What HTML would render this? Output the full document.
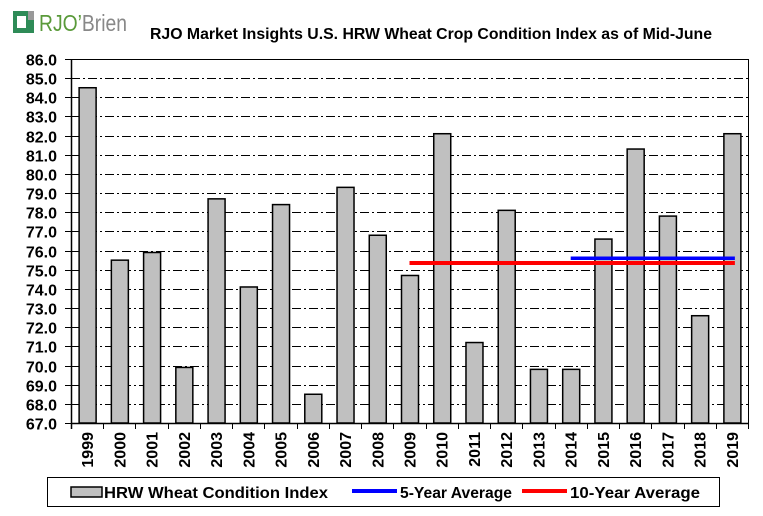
<!DOCTYPE html>
<html><head><meta charset="utf-8"><style>
body{margin:0;background:#fff;}
svg{display:block;font-family:"Liberation Sans",Arial,sans-serif;}
</style></head><body>
<svg width="763" height="516" viewBox="0 0 763 516" id="chart">
<g>
<rect x="13" y="11" width="21" height="22" fill="#2e8b57"/>
<rect x="17" y="16" width="9" height="12" fill="#fff"/>
<rect x="28" y="11" width="6" height="9" fill="#999"/>
<text x="39" y="31" font-size="23" fill="#5a9a3a" font-family="Liberation Sans,sans-serif" textLength="88" lengthAdjust="spacingAndGlyphs">RJO’<tspan fill="#888">Brien</tspan></text>
</g>
<text x="431" y="39" text-anchor="middle" font-size="16" font-weight="bold" textLength="562" lengthAdjust="spacingAndGlyphs">RJO Market Insights U.S. HRW Wheat Crop Condition Index as of Mid-June</text>
<g id="grid"></g><g id="bars"></g><g id="axes"></g><g id="avg"></g>
<g>
<rect x="47.5" y="477.5" width="672" height="29" fill="#fff" stroke="#000"/>
<rect x="71" y="487" width="31" height="10" fill="#c0c0c0" stroke="#000" stroke-width="1.5"/>
<text x="104" y="498" font-size="16" font-weight="bold" textLength="224" lengthAdjust="spacingAndGlyphs">HRW Wheat Condition Index</text>
<line x1="352" y1="491" x2="397" y2="491" stroke="#0000ff" stroke-width="4"/>
<text x="400" y="498" font-size="16" font-weight="bold" textLength="112" lengthAdjust="spacingAndGlyphs">5-Year Average</text>
<line x1="522" y1="491" x2="567" y2="491" stroke="#ff0000" stroke-width="4"/>
<text x="570" y="498" font-size="16" font-weight="bold" textLength="130" lengthAdjust="spacingAndGlyphs">10-Year Average</text>
</g>
</svg>
<script>
const years=["1999","2000","2001","2002","2003","2004","2005","2006","2007","2008","2009","2010","2011","2012","2013","2014","2015","2016","2017","2018","2019"];
const values=[84.5,75.5,75.9,69.9,78.7,74.1,78.4,68.5,79.3,76.8,74.7,82.1,71.2,78.1,69.8,69.8,76.6,81.3,77.8,72.6,82.1];
const fiveYearAvg=75.6, fiveYearStart="2014", fiveYearEnd="2019";
const tenYearAvg=75.35, tenYearStart="2009", tenYearEnd="2019";
const yMin=67, yMax=86, yStep=1;
const L=71,R=748,T=59,B=423;
const NS="http://www.w3.org/2000/svg";
const bw=(R-L)/years.length;
const y=v=>B-(v-yMin)/(yMax-yMin)*(B-T);
const xc=i=>L+bw*(i+0.5);
function mk(tag,attrs,parent){const e=document.createElementNS(NS,tag);for(const k in attrs)e.setAttribute(k,attrs[k]);document.getElementById(parent).appendChild(e);return e;}
for(let v=yMin;v<=yMax+1e-9;v+=yStep){
  const yy=Math.round(y(v))+0.5;
  if(v>yMin&&v<yMax){const g=mk('line',{x1:L,x2:R,y1:yy,y2:yy,stroke:'#000','stroke-dasharray':'9,3,2,3'},'grid');
  
  }
  mk('line',{x1:L-6,x2:L,y1:yy,y2:yy,stroke:'#000'},'axes');
  const t=mk('text',{x:L-14,y:yy+6,'text-anchor':'end','font-size':'16','font-weight':'bold'},'axes');
  t.textContent=v.toFixed(1);
  
  
}
values.forEach((v,i)=>{
  const w=17,x=xc(i)-w/2+0.5;
  const b=mk('rect',{x:x,y:y(v),width:w,height:B-y(v),fill:'#c0c0c0',stroke:'#000','stroke-width':'1.5'},'bars');
  
  
  const tx=xc(i)+6,ty=B+9;
  const t=mk('text',{x:tx,y:ty,transform:`rotate(-90 ${tx} ${ty})`,'text-anchor':'end','font-size':'16','font-weight':'bold'},'axes');
  t.textContent=years[i];
  
  
  const tk=Math.round(L+bw*(i+1))+0.5;
  mk('line',{x1:tk,x2:tk,y1:B,y2:B+6,stroke:'#000'},'axes');
});
mk('line',{x1:L-6,x2:R,y1:T+0.5,y2:T+0.5,stroke:'#000'},'axes');
mk('line',{x1:R+0.5,x2:R+0.5,y1:T,y2:B,stroke:'#000'},'axes');
mk('line',{x1:L+0.5,x2:L+0.5,y1:T,y2:B+6,stroke:'#000','stroke-width':'1.5'},'axes');
mk('line',{x1:L,x2:R,y1:B+0.5,y2:B+0.5,stroke:'#000','stroke-width':'1.5'},'axes');
const tl=mk('line',{x1:xc(years.indexOf(tenYearStart)),x2:xc(years.indexOf(tenYearEnd))+3,y1:y(tenYearAvg),y2:y(tenYearAvg),stroke:'#ff0000','stroke-width':'4'},'avg');


const fl=mk('line',{x1:xc(years.indexOf(fiveYearStart)),x2:xc(years.indexOf(fiveYearEnd))+3,y1:y(fiveYearAvg),y2:y(fiveYearAvg),stroke:'#0000ff','stroke-width':'3.5'},'avg');


</script>
</body></html>
